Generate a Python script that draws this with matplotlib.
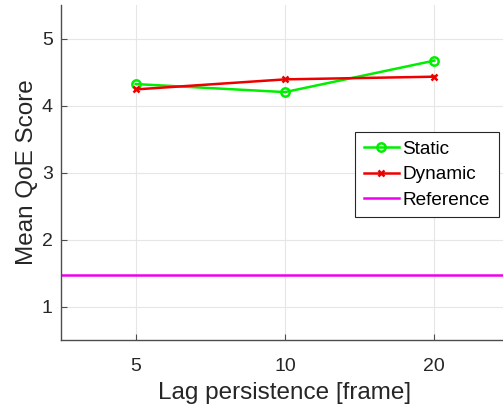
import matplotlib
matplotlib.use("Agg")
import matplotlib.pyplot as plt
import numpy as np

plt.rcParams['font.family'] = ['Liberation Sans', 'DejaVu Sans']

lag_labels = ["5", "10", "20"]
static_scores = [4.32, 4.20, 4.67]
dynamic_scores = [4.24, 4.39, 4.43]
reference_score = 1.47

fig = plt.figure(figsize=(5.03, 4.12), dpi=100)
# axes extends a bit past the right edge of the canvas
ax = fig.add_axes([61 / 503, 1 - 340 / 412, 448 / 503, 335 / 412])

x = np.arange(1, len(lag_labels) + 1)
ax.plot(x, static_scores, color="#00ee00", lw=1.8, marker="o", ms=6,
        mfc="none", mew=1.8, label="Static")
ax.plot(x, dynamic_scores, color="#ee0000", lw=1.8, marker="x", ms=5,
        mew=1.8, label="Dynamic")
ax.axhline(reference_score, color="#ee00ee", lw=1.8, label="Reference")

ax.set_xlim(0.5, 3.5)
ax.set_ylim(0.5, 5.5)
ax.set_xticks(x)
ax.set_xticklabels(lag_labels)
ax.set_yticks([1, 2, 3, 4, 5])

ax.grid(True, color="#e6e6e6", lw=0.8)
ax.set_axisbelow(True)
for side in ("top", "right"):
    ax.spines[side].set_visible(False)
for side in ("left", "bottom"):
    ax.spines[side].set_color("#4d4d4d")
    ax.spines[side].set_linewidth(1.0)
ax.tick_params(direction="in", length=4, width=0.8, colors="#4d4d4d",
               labelcolor="#262626", labelsize=14)
ax.tick_params(axis="x", pad=13)
ax.tick_params(axis="y", pad=6)

ax.set_xlabel("Lag persistence [frame]", fontsize=17.5, color="#262626", labelpad=5)
ax.set_ylabel("Mean QoE Score", fontsize=17.5, color="#262626", labelpad=3)

leg = ax.legend(loc="upper left", bbox_to_anchor=((355 - 61) / 448, 1 - (132 - 5) / 335),
                fontsize=13.7, frameon=True, fancybox=False, edgecolor="#262626",
                framealpha=1, borderpad=0.45, labelspacing=0.42, handlelength=1.85,
                handletextpad=0.2, borderaxespad=0)
leg.get_frame().set_linewidth(0.8)

fig.savefig("out.png", dpi=100)
